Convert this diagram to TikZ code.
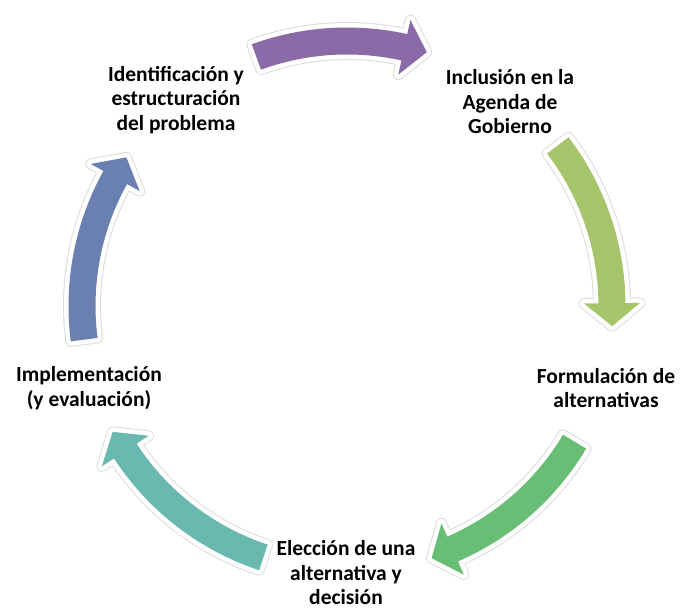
\documentclass[tikz,border=0pt]{standalone}
\usepackage{fontspec}
\setmainfont{Carlito}
\usetikzlibrary{calc}
\definecolor{cPurple}{RGB}{138,107,168}
\definecolor{cYellowGreen}{RGB}{166,196,106}
\definecolor{cGreen}{RGB}{104,190,116}
\definecolor{cTeal}{RGB}{106,185,176}
\definecolor{cBlue}{RGB}{106,128,176}
\newcommand\cyPath[1]{%
  \path[#1] ($(c)+(\cyA:278.5pt)$) arc[start angle=\cyA, end angle=\cyB, radius=278.5pt]
    -- ($(c)+(\cyB:293pt)$)
    -- ($(c)+(\cyB:265pt)+(\cyC:23pt)$)
    -- ($(c)+(\cyB:237pt)$)
    -- ($(c)+(\cyB:251.5pt)$)
    arc[start angle=\cyB, end angle=\cyA, radius=251.5pt] -- cycle;%
}
\newcommand\cycarrow[3]{% #1 colour, #2 tail angle, #3 head base angle
  \pgfmathsetmacro\cyA{#2}%
  \pgfmathsetmacro\cyB{#3}%
  \pgfmathsetmacro\cyC{#3-90}%
  \cyPath{arrowshadow}%
  \cyPath{arrowring}%
  \cyPath{fill=#1}%
}
\tikzset{
  arrowshadow/.style={draw=black!14, line width=11pt, line join=round},
  arrowring/.style={draw=white, line width=9pt, line join=round},
  stage/.style={align=center, font=\bfseries\fontsize{21.5}{24.5}\selectfont, text=black, inner sep=0pt}
}
\begin{document}
\begin{tikzpicture}[x=1pt,y=1pt]
\useasboundingbox (0,0) rectangle (681,610);
\coordinate (c) at (347,304);
\cycarrow{cPurple}{110}{77.5}
\cycarrow{cYellowGreen}{37.3}{0.6}
\cycarrow{cGreen}{-30.8}{-66.5}
\cycarrow{cTeal}{-108.4}{-146.8}
\cycarrow{cBlue}{187.3}{151}
\node[stage] (ident) at (176,510) {Identificación y\\estructuración\\del problema};
\node[stage] (agenda) at (510,508) {Inclusión en la\\Agenda de\\Gobierno};
\node[stage] (formul) at (606,222) {Formulación de\\alternativas};
\node[stage] (elecc) at (346,37) {Elección de una\\alternativa y\\decisión};
\node[stage] (implem) at (89,222) {Implementación\\(y evaluación)};
\end{tikzpicture}
\end{document}
